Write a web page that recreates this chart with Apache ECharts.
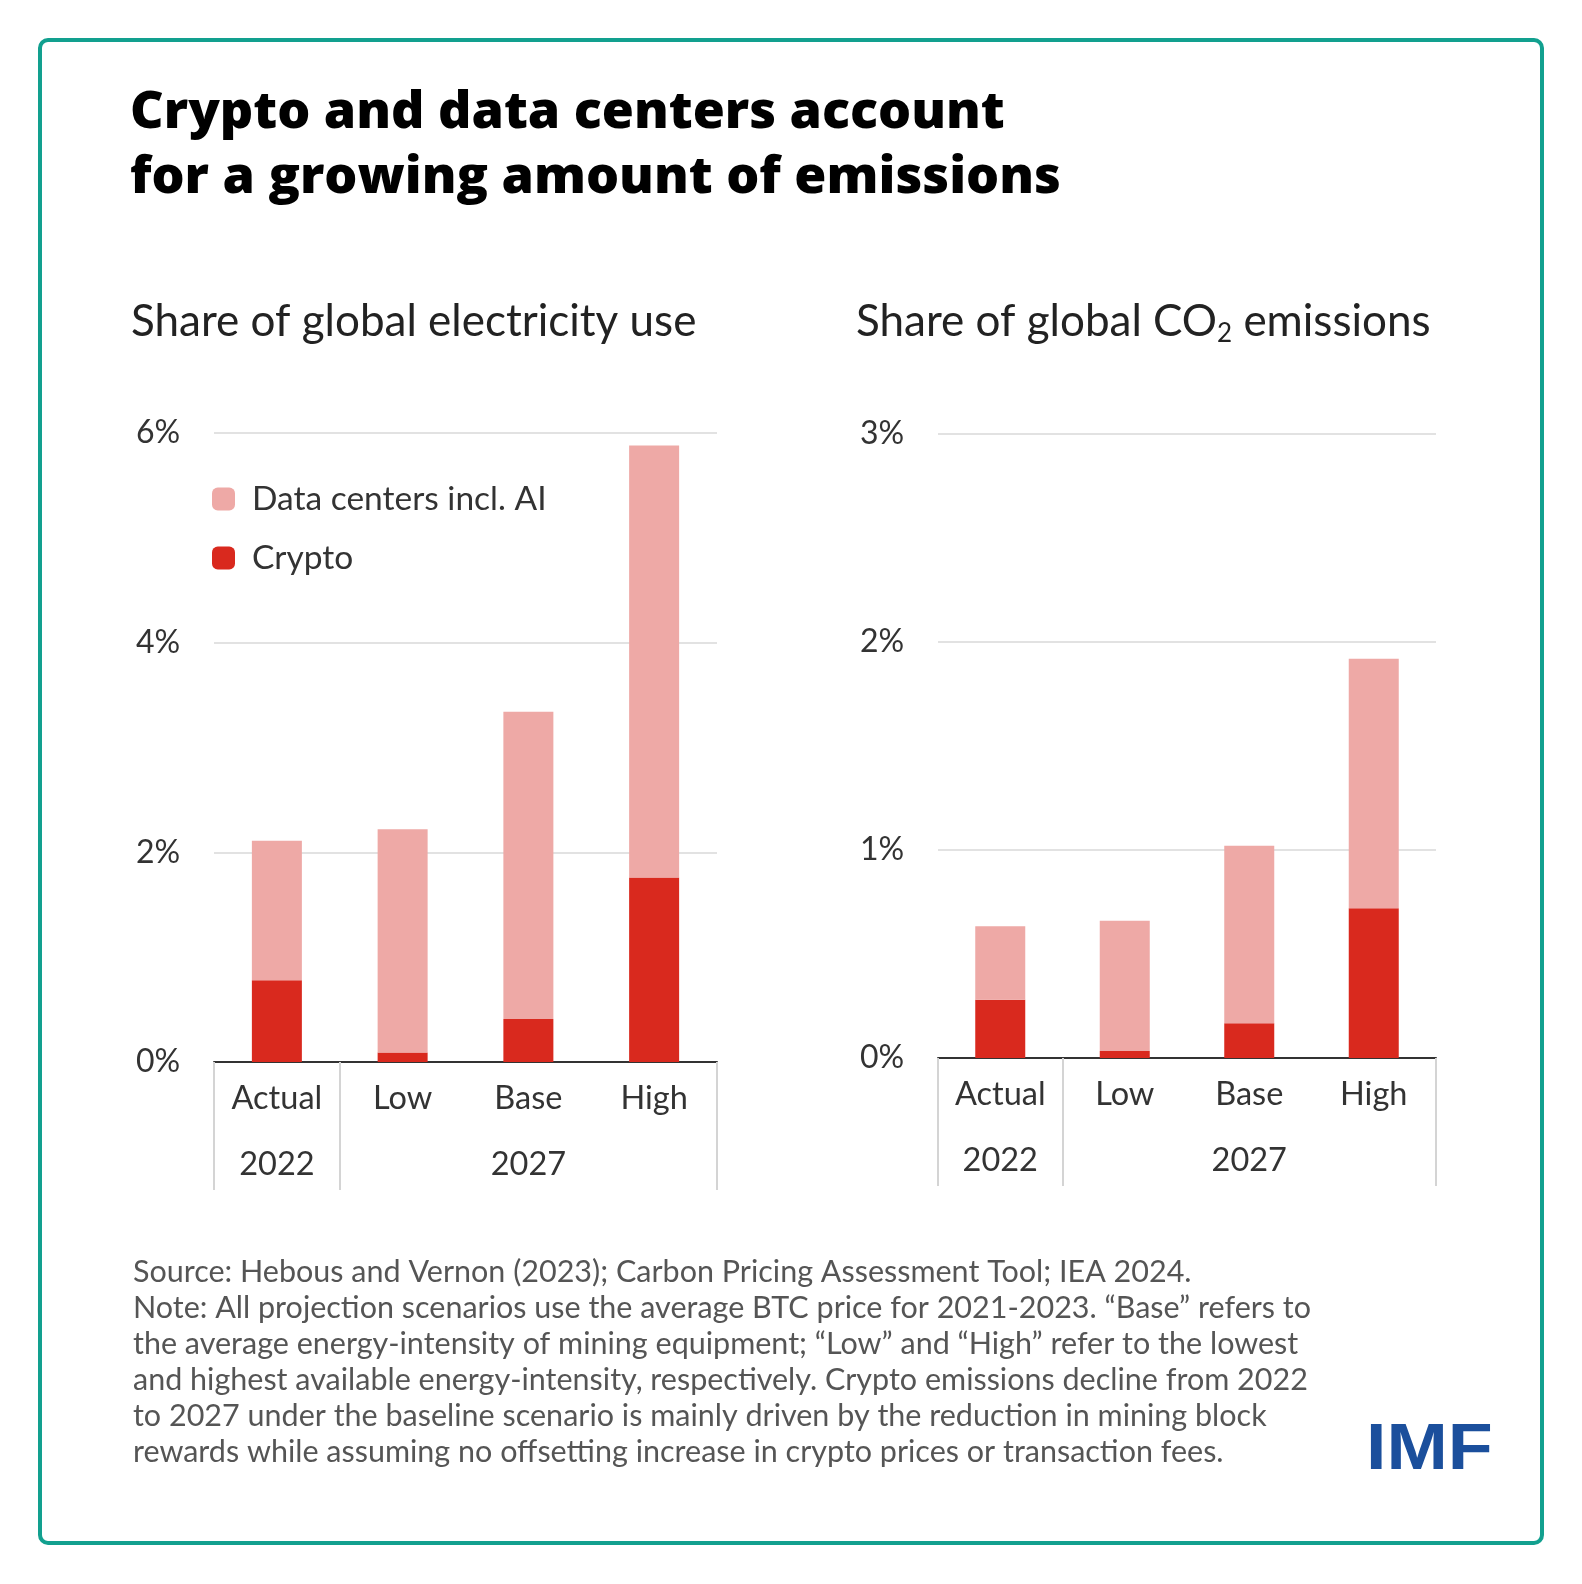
<!DOCTYPE html>
<html>
<head>
<meta charset="utf-8">
<script src="https://cdn.jsdelivr.net/npm/echarts@6/dist/echarts.min.js"></script>
<style>
  html, body { margin: 0; padding: 0; background: #fff; }
  #chart { width: 1582px; height: 1584px; }
</style>
</head>
<body>
<div id="chart"></div>
<script>
// data
var scenarios = ['Actual', 'Low', 'Base', 'High'];
var yearLabels = ['2022', '', '2027', ''];

var elecCrypto = [0.78, 0.09, 0.41, 1.76];
var elecDataCenters = [1.33, 2.13, 2.93, 4.12];

var co2Crypto = [0.28, 0.034, 0.167, 0.72];
var co2DataCenters = [0.353, 0.626, 0.853, 1.20];

var elecTicks = { min: 0, max: 6, interval: 2 };
var co2Ticks = { min: 0, max: 3, interval: 1 };

var pink = '#eea9a6';
var red = '#d9291e';
var ink = '#333333';
var font = 'Lato';

function catAxis(gridIndex) {
    return {
        type: 'category',
        gridIndex: gridIndex,
        data: scenarios,
        axisLine: { lineStyle: { color: '#333', width: 2 } },
        axisTick: {
            show: true,
            length: 128,
            interval: function (i) { return i < 2; },
            lineStyle: { color: '#d4d4d4', width: 2 }
        },
        axisLabel: {
            interval: 0,
            margin: 4,
            formatter: function (value, index) {
                var y = yearLabels[index];
                return y ? '{s|' + value + '}\n{y|' + y + '}' : '{s|' + value + '}';
            },
            rich: {
                s: { fontFamily: font, fontSize: 32.5, lineHeight: 66, color: ink },
                y: { fontFamily: font, fontSize: 32.5, lineHeight: 66, color: ink }
            }
        }
    };
}

function valAxis(gridIndex, t) {
    return {
        type: 'value',
        gridIndex: gridIndex,
        min: t.min,
        max: t.max,
        interval: t.interval,
        axisLine: { show: false },
        axisTick: { show: false },
        splitLine: { lineStyle: { color: '#e2e2e2', width: 2 } },
        axisLabel: {
            align: 'left',
            margin: 78,
            fontFamily: font,
            fontSize: 32,
            color: ink,
            formatter: '{value}%'
        }
    };
}

var chart = echarts.init(document.getElementById('chart'));

var option = {
    animation: false,
    backgroundColor: '#fff',
    textStyle: { fontFamily: font },
    title: [{
        text: 'Crypto and data centers account\nfor a growing amount of emissions',
        left: 130,
        top: 81,
        padding: 0,
        textStyle: { fontFamily: 'Open Sans', fontWeight: 800, fontSize: 52, lineHeight: 65, color: '#000' }
    }, {
        text: 'Share of global electricity use',
        left: 131,
        top: 297,
        padding: 0,
        textStyle: { fontFamily: font, fontWeight: 'normal', fontSize: 44, lineHeight: 50, color: '#222' }
    }, {
        text: '{m|Share of global CO}{sub|2}{m| emissions}',
        left: 856,
        top: 297,
        padding: 0,
        textStyle: {
            fontWeight: 'normal',
            rich: {
                m: { fontFamily: font, fontWeight: 'normal', fontSize: 44, lineHeight: 50, color: '#222' },
                sub: { fontFamily: font, fontWeight: 'normal', fontSize: 26, lineHeight: 24, verticalAlign: 'bottom', color: '#222' }
            }
        }
    }, {
        text: [
            'Source: Hebous and Vernon (2023); Carbon Pricing Assessment Tool; IEA 2024.',
            'Note: All projection scenarios use the average BTC price for 2021-2023. \u201cBase\u201d refers to',
            'the average energy-intensity of mining equipment; \u201cLow\u201d and \u201cHigh\u201d refer to the lowest',
            'and highest available energy-intensity, respectively. Crypto emissions decline from 2022',
            'to 2027 under the baseline scenario is mainly driven by the reduction in mining block',
            'rewards while assuming no offsetting increase in crypto prices or transaction fees.'
        ].join('\n'),
        left: 133,
        top: 1254,
        padding: 0,
        textStyle: { fontFamily: font, fontWeight: 'normal', fontSize: 30.5, lineHeight: 36, color: '#555' }
    }],
    legend: {
        data: ['Data centers incl. AI', 'Crypto'],
        orient: 'vertical',
        left: 212,
        top: 479,
        padding: 0,
        itemWidth: 23,
        itemHeight: 23,
        itemGap: 19,
        icon: 'roundRect',
        selectedMode: false,
        textStyle: { fontFamily: font, fontSize: 33.5, lineHeight: 40, color: ink, padding: [0, 0, 0, 12] }
    },
    grid: [
        { left: 214, right: 865, top: 433, bottom: 522 },
        { left: 938, right: 146, top: 434, bottom: 526 }
    ],
    xAxis: [catAxis(0), catAxis(1)],
    yAxis: [valAxis(0, elecTicks), valAxis(1, co2Ticks)],
    series: [
        { name: 'Crypto', type: 'bar', stack: 'elec', xAxisIndex: 0, yAxisIndex: 0, barWidth: 50,
          itemStyle: { color: red }, data: elecCrypto },
        { name: 'Data centers incl. AI', type: 'bar', stack: 'elec', xAxisIndex: 0, yAxisIndex: 0, barWidth: 50,
          itemStyle: { color: pink }, data: elecDataCenters },
        { name: 'Crypto', type: 'bar', stack: 'co2', xAxisIndex: 1, yAxisIndex: 1, barWidth: 50,
          itemStyle: { color: red }, data: co2Crypto },
        { name: 'Data centers incl. AI', type: 'bar', stack: 'co2', xAxisIndex: 1, yAxisIndex: 1, barWidth: 50,
          itemStyle: { color: pink }, data: co2DataCenters }
    ],
    graphic: [{
        type: 'rect',
        shape: { x: 40, y: 40, width: 1502, height: 1503, r: 8 },
        style: { fill: 'none', stroke: '#12a08f', lineWidth: 4 },
        silent: true
    }, {
        type: 'text',
        x: 1366,
        y: 1451,
        scaleX: 1.15,
        style: {
            text: 'IMF',
            font: 'bold 64px "Liberation Sans", Arial, sans-serif',
            fill: '#1b4f9c',
            textAlign: 'left',
            textVerticalAlign: 'middle'
        },
        silent: true
    }]
};

chart.setOption(option);
</script>
</body>
</html>
